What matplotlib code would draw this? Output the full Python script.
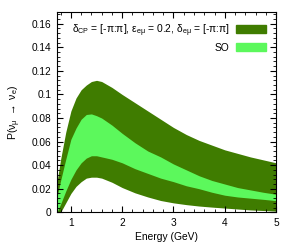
import numpy as np
import matplotlib
matplotlib.use("Agg")
import matplotlib.pyplot as plt
from matplotlib.patches import Patch
from matplotlib.ticker import MultipleLocator, AutoMinorLocator

plt.rcParams["font.family"] = ["Liberation Sans", "DejaVu Sans"]
plt.rcParams["mathtext.default"] = "regular"

# values
energy = [0.73, 0.8, 0.9, 1.0, 1.1, 1.2, 1.3, 1.4, 1.5, 1.6, 1.8, 2.0,
          2.25, 2.5, 2.75, 3.0, 3.25, 3.5, 3.75, 4.0, 4.25, 4.5, 4.75, 5.0]
nsi_hi = [0.026, 0.045, 0.068, 0.086, 0.097, 0.104, 0.108, 0.111, 0.112, 0.111,
          0.106, 0.100, 0.093, 0.086, 0.079, 0.072, 0.066, 0.061, 0.057, 0.053,
          0.050, 0.047, 0.0445, 0.042]
nsi_lo = [0.0, 0.0, 0.008, 0.016, 0.022, 0.026, 0.029, 0.0298, 0.0298, 0.029,
          0.0255, 0.021, 0.0165, 0.013, 0.010, 0.008, 0.0065, 0.0053, 0.0044,
          0.0036, 0.0028, 0.002, 0.0015, 0.001]
so_hi = [0.013, 0.027, 0.045, 0.062, 0.0715, 0.079, 0.083, 0.0835, 0.082, 0.080,
         0.074, 0.067, 0.059, 0.052, 0.047, 0.041, 0.036, 0.031, 0.027, 0.024,
         0.021, 0.019, 0.017, 0.0153]
so_lo = [0.0, 0.007, 0.018, 0.028, 0.036, 0.042, 0.046, 0.048, 0.048, 0.047,
         0.045, 0.042, 0.037, 0.033, 0.029, 0.026, 0.0225, 0.020, 0.017, 0.0145,
         0.013, 0.012, 0.011, 0.0099]

dark = "#3f7c00"
light = "#5cf85c"

fig = plt.figure(figsize=(2.94, 2.45), dpi=100)
ax = fig.add_axes([0.194, 0.1335, 0.745, 0.8175])

ax.fill_between(energy, nsi_lo, nsi_hi, color=dark, lw=0)
ax.fill_between(energy, so_lo, so_hi, color=light, lw=0)

ax.set_xlim(0.73, 5.0)
ax.set_ylim(0, 0.17)
ax.xaxis.set_major_locator(MultipleLocator(1))
ax.xaxis.set_minor_locator(AutoMinorLocator(5))
ax.yaxis.set_minor_locator(AutoMinorLocator(5))
ax.set_yticks([0, 0.02, 0.04, 0.06, 0.08, 0.1, 0.12, 0.14, 0.16])
ax.set_yticklabels(["0", "0.02", "0.04", "0.06", "0.08", "0.1", "0.12", "0.14", "0.16"])
ax.tick_params(which="both", direction="in", top=True, right=True, labelsize=7.3, pad=4)
ax.tick_params(which="major", length=4, width=0.8)
ax.tick_params(which="minor", length=2, width=0.6)
for s in ax.spines.values():
    s.set_linewidth(0.8)

ax.set_xlabel("Energy (GeV)", fontsize=7.4, labelpad=3)
ax.set_ylabel(r"P($\nu_\mu$ $\rightarrow$ $\nu_e$)", fontsize=7.6, labelpad=6)

handles = [Patch(facecolor=dark, edgecolor=dark),
           Patch(facecolor=light, edgecolor=light)]
labels = [r"$\delta_{CP}$ = [-$\pi$:$\pi$], $\epsilon_{e\mu}$ = 0.2, $\delta_{e\mu}$ = [-$\pi$:$\pi$]",
          "SO"]
ax.legend(handles, labels, loc="upper right", frameon=False, fontsize=7.4,
          markerfirst=False, handlelength=2.9, handleheight=0.8,
          handletextpad=0.6, labelspacing=0.38, borderaxespad=0.6)

fig.savefig("out.png", dpi=100)
